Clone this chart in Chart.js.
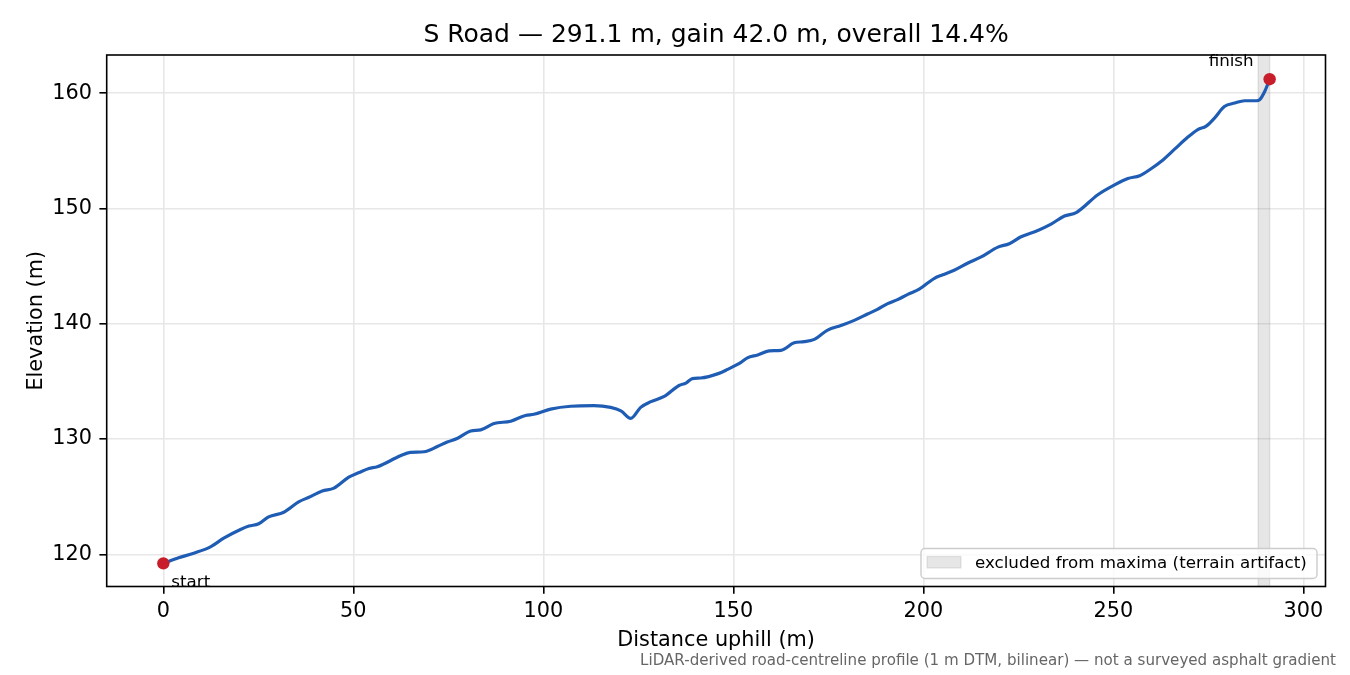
<!DOCTYPE html>
<html><head><meta charset="utf-8">
<script src="https://cdn.jsdelivr.net/npm/chart.js@4.4.1/dist/chart.umd.min.js"></script>
<style>html,body{margin:0;padding:0;background:#fff}#wrap{width:1350px;height:675px;position:relative}canvas{display:block}</style>
</head><body><div id="wrap"><canvas id="c" width="1350" height="675"></canvas></div>
<script>
const distances = [0,4,8,12.4,15.9,20.3,22.5,25.1,27.7,31.7,35.6,38.3,41.8,44.9,48.8,51.5,54.1,56.3,62.4,65,68.6,72.1,74.7,77.3,80.9,83.5,87,91.4,95.3,97.5,101.9,107.2,113.3,117.7,120.4,123,125.6,128.3,131.8,135.7,137.5,139.2,141.4,146.2,148.5,152,153.7,156.4,159.4,162.5,166,168.6,171.3,174.8,178.3,181.8,185.3,187.9,190.6,193.2,195.9,198.9,202.9,205.1,208.1,211.6,215.2,219.6,222.6,225.7,230.1,233.6,237.1,240.2,245.9,250.3,253.8,256.9,259.9,262.6,266.1,269.6,272.2,274.4,276.6,279.2,281.9,284.5,287.6,288.5,289.8,291.1];
const elevations = [119.22,119.7,120.1,120.65,121.4,122.15,122.45,122.65,123.25,123.65,124.55,124.95,125.5,125.75,126.7,127.1,127.45,127.6,128.55,128.85,128.9,129.35,129.75,130.05,130.7,130.8,131.35,131.55,132.05,132.15,132.6,132.85,132.9,132.75,132.45,131.8,132.75,133.25,133.7,134.65,134.85,135.25,135.3,135.7,136.05,136.65,137.05,137.3,137.65,137.7,138.35,138.45,138.65,139.45,139.85,140.3,140.85,141.25,141.75,142.1,142.55,143.0,143.95,144.25,144.65,145.25,145.8,146.65,146.95,147.55,148.1,148.65,149.35,149.65,151.2,152.05,152.6,152.85,153.45,154.1,155.15,156.2,156.85,157.15,157.85,158.85,159.15,159.35,159.35,159.45,160.15,161.22];
const markerDistances = [0, 291.1];
const markerElevations = [119.22, 161.22];
const markerLabels = ['start', 'finish'];
const excludedRange = [288.1, 291.1];
const xTicks = [0, 50, 100, 150, 200, 250, 300];
const yTicks = [120, 130, 140, 150, 160];
const titleText = 'S Road — 291.1 m, gain 42.0 m, overall 14.4%';
const xTitle = 'Distance uphill (m)';
const yTitle = 'Elevation (m)';
const legendLabel = 'excluded from maxima (terrain artifact)';
const footnote = 'LiDAR-derived road-centreline profile (1 m DTM, bilinear) — not a surveyed asphalt gradient';

const FONT = "'DejaVu Sans', sans-serif";
const BAND = 'rgba(128,128,128,0.2)';

const deco = {
  id: 'deco',
  beforeDatasetsDraw(chart) {
    const {ctx, chartArea: a, scales: {x}} = chart;
    const x0 = x.getPixelForValue(excludedRange[0]);
    const x1 = x.getPixelForValue(excludedRange[1]);
    ctx.save();
    ctx.fillStyle = BAND;
    ctx.fillRect(x0, a.top, x1 - x0, a.bottom - a.top);
    ctx.strokeStyle = BAND;
    ctx.lineWidth = 1.5;
    ctx.strokeRect(x0, a.top, x1 - x0, a.bottom - a.top);
    ctx.restore();
  },
  afterDraw(chart) {
    const {ctx, chartArea: a, scales: {x, y}} = chart;
    ctx.save();
    ctx.fillStyle = '#000';
    ctx.font = '16.7px ' + FONT;
    ctx.textBaseline = 'alphabetic';
    const sx = x.getPixelForValue(markerDistances[0]), sy = y.getPixelForValue(markerElevations[0]);
    ctx.textAlign = 'left';
    ctx.fillText(markerLabels[0], sx + 8, sy + 24);
    const fx = x.getPixelForValue(markerDistances[1]), fy = y.getPixelForValue(markerElevations[1]);
    ctx.textAlign = 'right';
    ctx.fillText(markerLabels[1], fx - 16, fy - 13);
    ctx.strokeStyle = '#000';
    ctx.lineWidth = 1.6;
    ctx.strokeRect(a.left, a.top, a.right - a.left, a.bottom - a.top);
    const lx = a.right - 8.5, lw = 396, lh = 30, ly = a.bottom - 8 - lh;
    const bx = lx - lw;
    ctx.beginPath();
    ctx.roundRect(bx, ly, lw, lh, 4);
    ctx.fillStyle = 'rgba(255,255,255,0.8)';
    ctx.fill();
    ctx.strokeStyle = '#cccccc';
    ctx.lineWidth = 1.4;
    ctx.stroke();
    ctx.fillStyle = BAND;
    ctx.fillRect(bx + 6, ly + 8, 34, 11.5);
    ctx.strokeStyle = BAND;
    ctx.lineWidth = 1.2;
    ctx.strokeRect(bx + 6, ly + 8, 34, 11.5);
    ctx.fillStyle = '#000';
    ctx.font = '16.7px ' + FONT;
    ctx.textAlign = 'left';
    ctx.textBaseline = 'middle';
    ctx.fillText(legendLabel, bx + 54, ly + lh / 2);
    const cx = (a.left + a.right) / 2;
    ctx.font = '25px ' + FONT;
    ctx.textAlign = 'center';
    ctx.textBaseline = 'alphabetic';
    ctx.fillText(titleText, cx, 42);
    ctx.font = '20.8px ' + FONT;
    ctx.fillText(xTitle, cx, 646);
    ctx.save();
    ctx.translate(42, (a.top + a.bottom) / 2);
    ctx.rotate(-Math.PI / 2);
    ctx.fillText(yTitle, 0, 0);
    ctx.restore();
    ctx.font = '15.1px ' + FONT;
    ctx.fillStyle = '#666666';
    ctx.textAlign = 'right';
    ctx.fillText(footnote, 1336, 665);
    ctx.restore();
  }
};

const profile = distances.map((d, i) => ({x: d, y: elevations[i]}));
const markers = markerDistances.map((d, i) => ({x: d, y: markerElevations[i]}));

const gridOpts = {color: '#e7e7e7', lineWidth: 1.6, drawTicks: true, tickLength: 7.3, tickColor: '#000', tickWidth: 1.6};
const tickFont = {family: FONT, size: 20.8};

new Chart(document.getElementById('c'), {
  type: 'line',
  data: {
    datasets: [
      {label: 'markers', type: 'scatter', data: markers, backgroundColor: '#c81e2c', borderWidth: 0, pointRadius: 6.2, pointHoverRadius: 6.2, order: 0},
      {label: 'profile', data: profile, borderColor: '#1f5db4', borderWidth: 3.2, pointRadius: 0, fill: false, cubicInterpolationMode: 'monotone', borderJoinStyle: 'round', borderCapStyle: 'round', order: 1}
    ]
  },
  options: {
    responsive: false,
    animation: false,
    devicePixelRatio: 1,
    layout: {padding: {left: 0, top: 55, right: 24.5, bottom: 0}},
    plugins: {legend: {display: false}, title: {display: false}, tooltip: {enabled: false}},
    events: [],
    scales: {
      x: {
        type: 'linear', min: -14.9, max: 305.8,
        afterFit(s) { s.height = 88.5; },
        afterBuildTicks(s) { s.ticks = xTicks.map(v => ({value: v})); },
        grid: gridOpts,
        border: {display: false},
        ticks: {font: tickFont, color: '#000', padding: 5, maxRotation: 0, autoSkip: false}
      },
      y: {
        type: 'linear', min: 117.21, max: 163.32,
        afterFit(s) { s.width = 106.7; },
        afterBuildTicks(s) { s.ticks = yTicks.map(v => ({value: v})); },
        grid: gridOpts,
        border: {display: false},
        ticks: {font: tickFont, color: '#000', padding: 7.4, autoSkip: false}
      }
    }
  },
  plugins: [deco]
});
</script></body></html>
